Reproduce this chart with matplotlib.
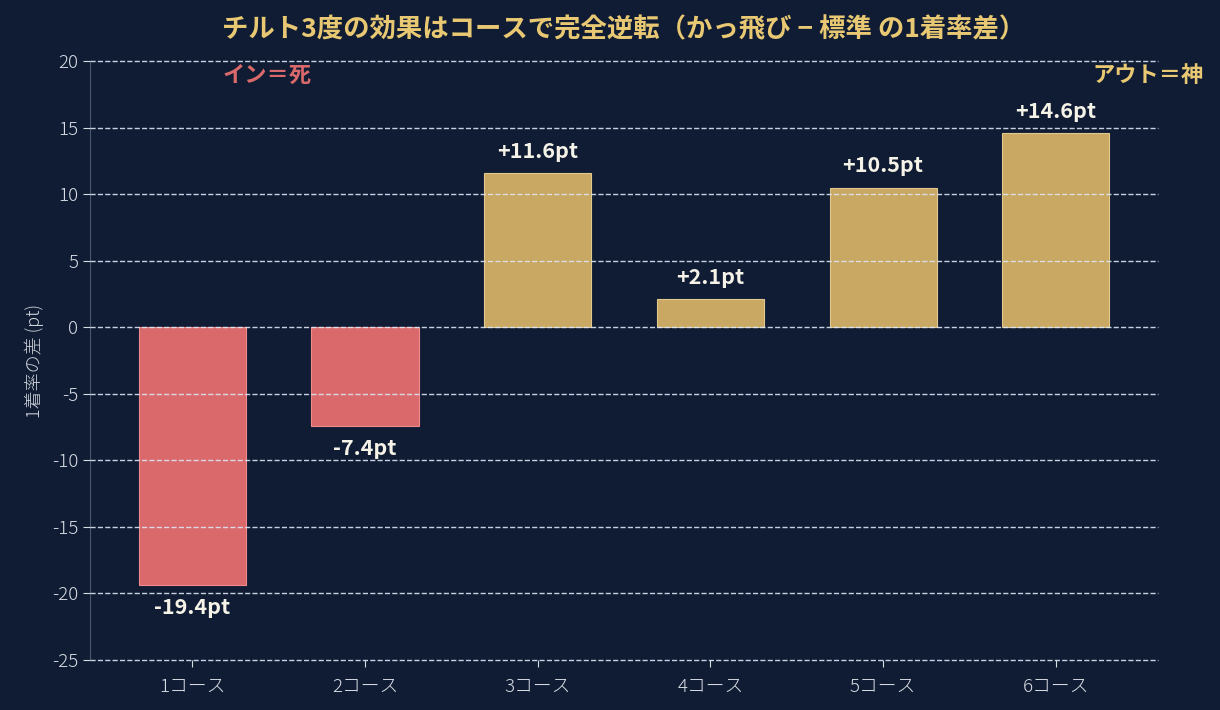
import matplotlib
matplotlib.use("Agg")
import matplotlib.pyplot as plt

plt.rcParams['font.family'] = ['Noto Sans CJK JP', 'DejaVu Sans']
plt.rcParams['axes.unicode_minus'] = False

courses = ['1コース', '2コース', '3コース', '4コース', '5コース', '6コース']
diffs = [-19.4, -7.4, 11.6, 2.1, 10.5, 14.6]

bg = '#0f1c33'
red = '#d9696b'
gold = '#c8a862'

fig = plt.figure(figsize=(12.2, 7.1), dpi=100, facecolor=bg)
ax = fig.add_axes([0.074, 0.0704, 0.875, 0.8436])
ax.set_facecolor(bg)

colors = [red if d < 0 else gold for d in diffs]
edges = ['#f08a8a' if d < 0 else '#e0c890' for d in diffs]
x = range(len(courses))
bars = ax.bar(x, diffs, width=0.62, color=colors, edgecolor=edges, linewidth=0.8, zorder=2)

for xi, d in zip(x, diffs):
    if d < 0:
        ax.text(xi, d - 0.9, f'{d:.1f}pt', ha='center', va='top', color='#f5f2e8',
                fontsize=15.5, fontweight='bold', zorder=4)
    else:
        ax.text(xi, d + 0.85, f'+{d:.1f}pt', ha='center', va='bottom', color='#f5f2e8',
                fontsize=15.5, fontweight='bold', zorder=4)

ax.set_ylim(-25, 20)
ax.set_yticks(range(-25, 21, 5))
ax.set_xticks(list(x))
ax.set_xticklabels(courses)
ax.yaxis.grid(True, linestyle='--', color='#dde6f5', linewidth=1.0, alpha=0.9, zorder=3)
for gl in ax.get_ygridlines():
    gl.set_clip_on(False)
ax.set_axisbelow(False)
ax.tick_params(colors='#d8dce4', labelsize=13.5)
ax.tick_params(axis='x', length=5, pad=8)
ax.tick_params(axis='y', length=5)
for lbl in ax.get_xticklabels() + ax.get_yticklabels():
    lbl.set_fontweight('light')

for s in ['top', 'right', 'bottom']:
    ax.spines[s].set_visible(False)
ax.spines['left'].set_color('#4a5670')

ax.set_ylabel('1着率の差 (pt)', color='#d0d4dc', fontsize=13, fontweight='light', labelpad=6)

ax.set_title('チルト3度の効果はコースで完全逆転（かっ飛び − 標準 の1着率差）',
             color='#e8c872', fontsize=19, fontweight='bold', pad=17)

ax.text(0.124, 0.976, 'イン＝死', transform=ax.transAxes, ha='left', va='center',
        color=red, fontsize=16, fontweight='bold')
ax.text(1.0428, 0.976, 'アウト＝神', transform=ax.transAxes, ha='right', va='center',
        color='#e8c872', fontsize=16, fontweight='bold')

fig.savefig('out.png', dpi=100, facecolor=bg)
